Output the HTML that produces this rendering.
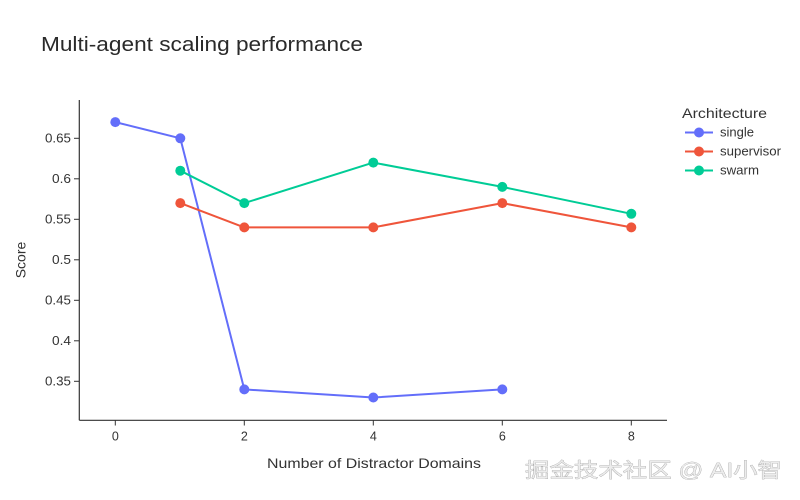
<!DOCTYPE html>
<html>
<head>
<meta charset="utf-8">
<style>
html,body{margin:0;padding:0;background:#fff;}
svg{display:block;}
text{font-family:"Liberation Sans","DejaVu Sans",sans-serif;fill:#2a3f5f;}
</style>
</head>
<body>
<svg width="800" height="500" viewBox="0 0 800 500" xmlns="http://www.w3.org/2000/svg">
<rect width="800" height="500" fill="#fff"/>
<!-- title -->
<text x="41" y="51" font-size="20" style="fill:#2a2a2a" textLength="322" lengthAdjust="spacingAndGlyphs">Multi-agent scaling performance</text>

<!-- axes -->
<line x1="79.3" y1="100" x2="79.3" y2="420.3" stroke="#333" stroke-width="1.2"/>
<line x1="79.3" y1="420.3" x2="667" y2="420.3" stroke="#333" stroke-width="1.2"/>

<!-- y ticks -->
<g stroke="#333" stroke-width="1">
<line x1="74" y1="138.3" x2="79.3" y2="138.3"/>
<line x1="74" y1="178.8" x2="79.3" y2="178.8"/>
<line x1="74" y1="219.3" x2="79.3" y2="219.3"/>
<line x1="74" y1="259.8" x2="79.3" y2="259.8"/>
<line x1="74" y1="300.3" x2="79.3" y2="300.3"/>
<line x1="74" y1="340.8" x2="79.3" y2="340.8"/>
<line x1="74" y1="381.3" x2="79.3" y2="381.3"/>
</g>
<g font-size="12.5">
<text x="45" y="142.5" style="fill:#333" textLength="26" lengthAdjust="spacingAndGlyphs">0.65</text>
<text x="52" y="183" style="fill:#333" textLength="19" lengthAdjust="spacingAndGlyphs">0.6</text>
<text x="45" y="223.5" style="fill:#333" textLength="26" lengthAdjust="spacingAndGlyphs">0.55</text>
<text x="52" y="264" style="fill:#333" textLength="19" lengthAdjust="spacingAndGlyphs">0.5</text>
<text x="45" y="304.5" style="fill:#333" textLength="26" lengthAdjust="spacingAndGlyphs">0.45</text>
<text x="52" y="345" style="fill:#333" textLength="19" lengthAdjust="spacingAndGlyphs">0.4</text>
<text x="45" y="385.5" style="fill:#333" textLength="26" lengthAdjust="spacingAndGlyphs">0.35</text>
</g>

<!-- x ticks -->
<g stroke="#333" stroke-width="1">
<line x1="115.3" y1="420.3" x2="115.3" y2="425.5"/>
<line x1="244.3" y1="420.3" x2="244.3" y2="425.5"/>
<line x1="373.3" y1="420.3" x2="373.3" y2="425.5"/>
<line x1="502.3" y1="420.3" x2="502.3" y2="425.5"/>
<line x1="631.3" y1="420.3" x2="631.3" y2="425.5"/>
</g>
<g font-size="12.5" text-anchor="middle">
<text x="115.3" y="440.5" style="fill:#333">0</text>
<text x="244.3" y="440.5" style="fill:#333">2</text>
<text x="373.3" y="440.5" style="fill:#333">4</text>
<text x="502.3" y="440.5" style="fill:#333">6</text>
<text x="631.3" y="440.5" style="fill:#333">8</text>
</g>

<!-- axis titles -->
<text x="267" y="468" font-size="14" style="fill:#333" textLength="214" lengthAdjust="spacingAndGlyphs">Number of Distractor Domains</text>
<text transform="translate(25.5,260) rotate(-90)" font-size="14" text-anchor="middle" style="fill:#333">Score</text>

<!-- series -->
<!-- single -->
<polyline fill="none" stroke="#636efa" stroke-width="2" stroke-linejoin="round" points="115.3,122.1 180.3,138.3 244.3,389.4 373.3,397.5 502.3,389.4"/>
<g fill="#636efa">
<circle cx="115.3" cy="122.1" r="5"/>
<circle cx="180.3" cy="138.3" r="5"/>
<circle cx="244.3" cy="389.4" r="5"/>
<circle cx="373.3" cy="397.5" r="5"/>
<circle cx="502.3" cy="389.4" r="5"/>
</g>
<!-- supervisor -->
<polyline fill="none" stroke="#EF553B" stroke-width="2" stroke-linejoin="round" points="180.3,203.1 244.3,227.4 373.3,227.4 502.3,203.1 631.3,227.4"/>
<g fill="#EF553B">
<circle cx="180.3" cy="203.1" r="5"/>
<circle cx="244.3" cy="227.4" r="5"/>
<circle cx="373.3" cy="227.4" r="5"/>
<circle cx="502.3" cy="203.1" r="5"/>
<circle cx="631.3" cy="227.4" r="5"/>
</g>
<!-- swarm -->
<polyline fill="none" stroke="#00cc96" stroke-width="2" stroke-linejoin="round" points="180.3,170.7 244.3,203.1 373.3,162.6 502.3,186.9 631.3,213.8"/>
<g fill="#00cc96">
<circle cx="180.3" cy="170.7" r="5"/>
<circle cx="244.3" cy="203.1" r="5"/>
<circle cx="373.3" cy="162.6" r="5"/>
<circle cx="502.3" cy="186.9" r="5"/>
<circle cx="631.3" cy="213.8" r="5"/>
</g>

<!-- legend -->
<text x="682" y="118" font-size="14" style="fill:#333" textLength="85" lengthAdjust="spacingAndGlyphs">Architecture</text>
<line x1="685" y1="132.5" x2="713" y2="132.5" stroke="#636efa" stroke-width="2"/>
<circle cx="699" cy="132.5" r="5" fill="#636efa"/>
<text x="720" y="136.5" font-size="12.5" style="fill:#333" textLength="34" lengthAdjust="spacingAndGlyphs">single</text>
<line x1="685" y1="151.5" x2="713" y2="151.5" stroke="#EF553B" stroke-width="2"/>
<circle cx="699" cy="151.5" r="5" fill="#EF553B"/>
<text x="720" y="155.5" font-size="12.5" style="fill:#333" textLength="61" lengthAdjust="spacingAndGlyphs">supervisor</text>
<line x1="685" y1="170.5" x2="713" y2="170.5" stroke="#00cc96" stroke-width="2"/>
<circle cx="699" cy="170.5" r="5" fill="#00cc96"/>
<text x="720" y="174.5" font-size="12.5" style="fill:#333" textLength="39" lengthAdjust="spacingAndGlyphs">swarm</text>

<!-- watermark -->
<text x="525" y="477" font-size="20" textLength="257" lengthAdjust="spacingAndGlyphs" style="fill:#ececec;stroke:#8a8a8a;stroke-width:0.5;paint-order:stroke;font-family:'Liberation Sans','Noto Sans CJK SC',sans-serif">掘金技术社区 @ AI小智</text>
</svg>
</body>
</html>
